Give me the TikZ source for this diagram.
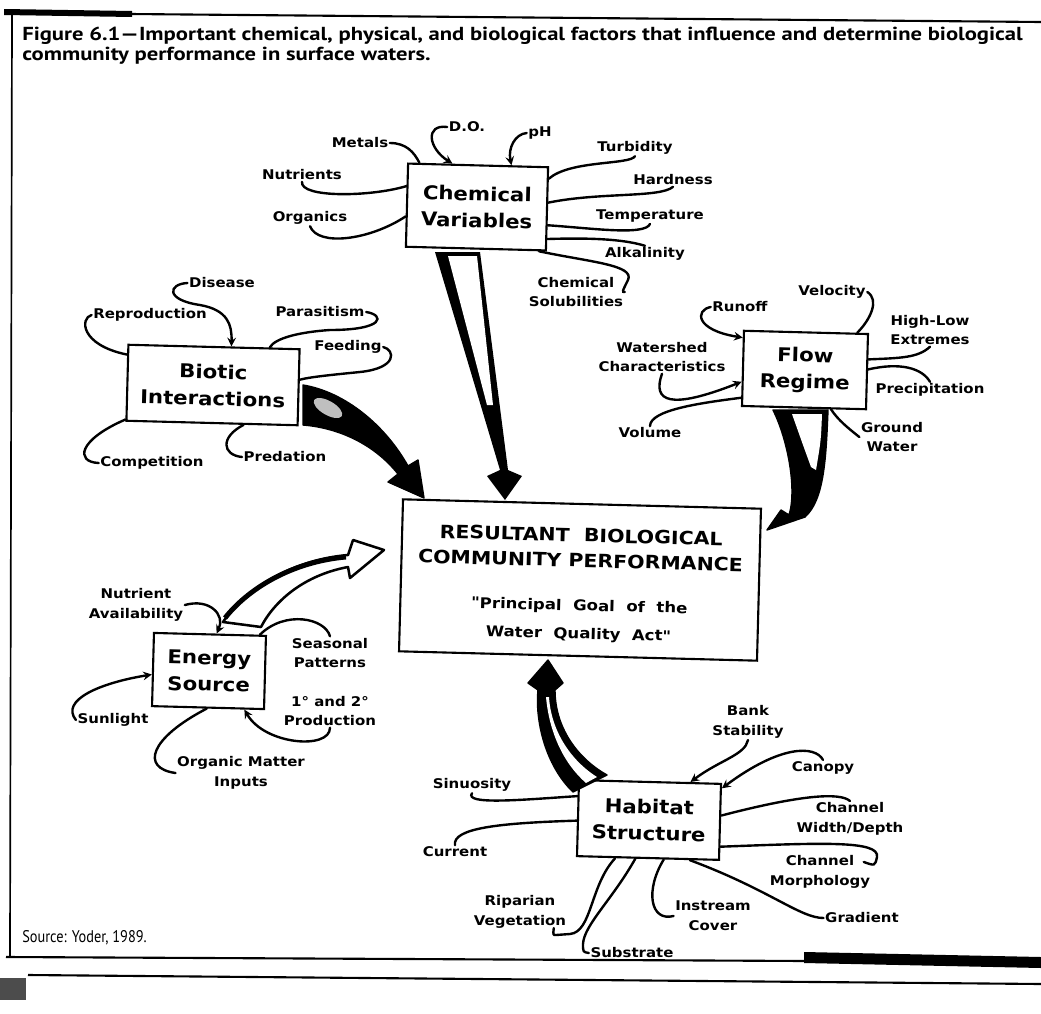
\documentclass[tikz,border=0pt]{standalone}
\usepackage{fontspec}
\setmainfont{PT Sans}
\newfontfamily\titlefont[FakeStretch=1.2]{PT Sans}
\newfontfamily\srcfont[FakeStretch=0.85]{PT Sans}
\newfontfamily\lblfont[FakeStretch=1.12]{DejaVu Sans}
\usetikzlibrary{calc}

\begin{document}
\begin{tikzpicture}[x=0.025cm, y=-0.025cm, >=stealth,
  box/.style={draw, line width=1.5pt, rotate=-1.5, align=center, inner sep=0pt,
    font=\lblfont\bfseries\fontsize{13.5}{19}\selectfont},
  lbl/.style={align=center, inner sep=1pt,
    font=\lblfont\bfseries\fontsize{9.5}{14}\selectfont},
  wire/.style={line width=1.7pt, line cap=round},
  fat/.style={fill=black, draw=black, line width=1pt, line join=round}]
\useasboundingbox (0,0) rectangle (1041,1014);

% Rahmen
\fill (4,9) -- (132,11) -- (132,17) -- (4,15) -- cycle;
\draw[line width=1.5pt] (130,14) -- (1041,22);
\draw[line width=1.2pt] (12,14) -- (10,957);
\draw[line width=1.5pt] (6,957) -- (806,961);
\fill (804,952) -- (1041,957) -- (1041,968) -- (804,963) -- cycle;
\draw[line width=1.5pt] (28,975) -- (1041,984);
\fill[black!70] (0,978) rectangle (26,1000);

% Text
\node[anchor=north west, align=left, inner sep=0pt,
  font=\titlefont\bfseries\fontsize{13.4}{14.2}\selectfont] (title) at (22,27)
  {Figure 6.1—Important chemical, physical, and biological factors that influence and determine biological\\
   community performance in surface waters.};
\node[anchor=west, inner sep=0pt, font=\srcfont\fontsize{12}{14}\selectfont] (source) at (22,938)
  {Source: Yoder, 1989.};

% Kaesten
\node[box, minimum width=3.5cm, minimum height=2.08cm] (chem) at (477,207) {Chemical\\Variables};
\node[box, minimum width=4.28cm, minimum height=1.9cm] (biotic) at (213,385) {Biotic\\Interactions};
\node[box, minimum width=3.1cm, minimum height=1.88cm] (flow) at (805,370) {Flow\\Regime};
\node[box, minimum width=2.8cm, minimum height=1.83cm] (energy) at (209,671) {Energy\\Source};
\node[box, minimum width=3.55cm, minimum height=1.9cm] (habitat) at (649,820) {Habitat\\Structure};
\node[box, minimum width=8.95cm, minimum height=3.8cm] (res) at (580,580)
  {\fontsize{13}{18.5}\selectfont\rule{0pt}{17pt}RESULTANT \ BIOLOGICAL\\[-1pt]
   \fontsize{13}{18.5}\selectfont COMMUNITY PERFORMANCE\\[12pt]
   \fontsize{10.5}{17.5}\selectfont "Principal \ Goal \ of \ the\\[1pt]
   \fontsize{10.5}{17.5}\selectfont Water \ Quality \ Act"};

% Faktoren: Chemie
\node[lbl] (metals) at (360,143) {Metals};
\node[lbl] (do) at (467,127) {D.O.};
\node[lbl] (ph) at (540,133) {pH};
\node[lbl] (nutrients) at (302,175) {Nutrients};
\node[lbl] (organics) at (310,218) {Organics};
\node[lbl] (turbidity) at (635,148) {Turbidity};
\node[lbl] (hardness) at (673,180) {Hardness};
\node[lbl] (temperature) at (650,216) {Temperature};
\node[lbl] (alkalinity) at (645,254) {Alkalinity};
\node[lbl] (solub) at (576,292) {Chemical\\Solubilities};

% Faktoren: Biotik
\node[lbl] (disease) at (222,283) {Disease};
\node[lbl] (reproduction) at (150,315) {Reproduction};
\node[lbl] (parasitism) at (320,312) {Parasitism};
\node[lbl] (feeding) at (348,347) {Feeding};
\node[lbl] (competition) at (152,463) {Competition};
\node[lbl] (predation) at (285,457) {Predation};

% Faktoren: Abfluss
\node[lbl] (runoff) at (740,307) {Runoff};
\node[lbl] (velocity) at (832,292) {Velocity};
\node[lbl] (highlow) at (930,330) {High-Low\\Extremes};
\node[lbl] (precip) at (930,390) {Precipitation};
\node[lbl] (watershed) at (662,357) {Watershed\\Characteristics};
\node[lbl] (volume) at (650,433) {Volume};
\node[lbl] (ground) at (892,437) {Ground\\Water};

% Faktoren: Energie
\node[lbl] (nutavail) at (136,605) {Nutrient\\Availability};
\node[lbl] (seasonal) at (330,653) {Seasonal\\Patterns};
\node[lbl] (production) at (330,711) {1° and 2°\\Production};
\node[lbl] (sunlight) at (113,720) {Sunlight};
\node[lbl] (organic) at (241,773) {Organic Matter\\Inputs};

% Faktoren: Habitat
\node[lbl] (bank) at (748,722) {Bank\\Stability};
\node[lbl] (canopy) at (823,768) {Canopy};
\node[lbl] (width) at (850,819) {Channel\\Width/Depth};
\node[lbl] (morph) at (820,872) {Channel\\Morphology};
\node[lbl] (gradient) at (862,918) {Gradient};
\node[lbl] (sinuosity) at (472,785) {Sinuosity};
\node[lbl] (current) at (455,852) {Current};
\node[lbl] (riparian) at (520,912) {Riparian\\Vegetation};
\node[lbl] (substrate) at (632,953) {Substrate};
\node[lbl] (instream) at (713,916) {Instream\\Cover};

% Verbindungen
\draw[wire] (metals.east) .. controls (406,143) and (414,152) .. (chem.144);
\draw[wire, ->] (do.west) .. controls (425,124) and (428,148) .. (chem.121);
\draw[wire, ->] (ph.west) .. controls (515,134) and (508,148) .. (chem.52);
\draw[wire] (nutrients.south) .. controls (300,198) and (370,197) .. (chem.165);
\draw[wire] (organics.south) .. controls (318,247) and (370,240) .. (chem.189);
\draw[wire] (turbidity.south) .. controls (630,165) and (570,160) .. (chem.23);
\draw[wire] (hardness.south) .. controls (660,198) and (600,192) .. (chem.5);
\draw[wire] (temperature.south) .. controls (645,236) and (590,228) .. (chem.-13);
\draw[wire] (chem.-23) .. controls (580,238) and (620,238) .. (alkalinity.north);
\draw[wire] (chem.-34) .. controls (590,262) and (635,265) .. (628,280)
  .. controls (622,292) .. (solub.east);

\draw[wire, ->] (disease.west) .. controls (168,284) and (165,300) .. (200,305)
  .. controls (228,310) and (232,325) .. (biotic.66);
\draw[wire] (reproduction.west) .. controls (80,318) and (80,345) .. (biotic.162);
\draw[wire] (parasitism.east) .. controls (385,315) and (385,330) .. (330,330)
  .. controls (300,332) and (275,338) .. (biotic.35);
\draw[wire] (feeding.east) .. controls (395,350) and (398,368) .. (360,372)
  .. controls (330,375) and (310,377) .. (biotic.5);
\draw[wire] (competition.west) .. controls (75,462) and (78,440) .. (biotic.203);
\draw[wire] (predation.west) .. controls (222,455) and (220,437) .. (biotic.-51);

\draw[wire, ->] (runoff.west) .. controls (695,310) and (695,330) .. (flow.154);
\draw[wire] (velocity.east) .. controls (880,300) and (870,320) .. (flow.37);
\draw[wire] (highlow.south) .. controls (918,358) and (900,358) .. (flow.11);
\draw[wire] (precip.north) .. controls (922,368) and (900,362) .. (flow.2);
\draw[wire, ->] (watershed.south) .. controls (652,402) and (670,410) .. (flow.192);
\draw[wire] (volume.north) .. controls (650,410) and (700,403) .. (flow.205);
\draw[wire] (ground.west) .. controls (848,428) and (838,420) .. (flow.-55);

\draw[wire, ->] (nutavail.east) .. controls (210,598) and (225,615) .. (energy.80);
\draw[wire, ->] (sunlight.west) .. controls (60,700) and (100,683) .. (energy.185);
\draw[wire] (seasonal.north) .. controls (325,618) and (285,610) .. (energy.37);
\draw[wire, ->] (production.south) .. controls (330,750) and (265,745) .. (energy.-46);
\draw[wire] (organic.west) .. controls (140,768) and (150,738) .. (energy.-92);

\draw[wire, ->] (bank.south) .. controls (745,755) and (720,760) .. (habitat.44);
\draw[wire, ->] (canopy.north) .. controls (815,745) and (780,745) .. (habitat.25);
\draw[wire] (width.north) .. controls (840,792) and (800,795) .. (habitat.5);
\draw[wire] (habitat.-19) .. controls (820,843) and (880,840) .. (877,857)
  .. controls (875,866) .. ($(morph.north east)+(-8,8)$);
\draw[wire] (gradient.west) .. controls (800,918) and (770,890) .. (habitat.-43);
\draw[wire] (sinuosity.south) .. controls (464,805) and (520,800) .. (habitat.163);
\draw[wire] (current.north) .. controls (452,828) and (500,823) .. (habitat.182);
\draw[wire] (habitat.230) .. controls (590,885) and (592,932) .. (570,934)
  -- (556,935) .. controls (553,935) .. ($(riparian.south east)+(-14,-2)$);
\draw[wire] (habitat.252) .. controls (612,900) and (584,925) .. (583,944)
  .. controls (583,952) .. (substrate.west);
\draw[wire] (instream.west) .. controls (650,922) and (645,890) .. (habitat.292);

% grosse Pfeile
\fill (435,252) -- (480,252) -- (508,470) -- (522,476) -- (505,500) -- (487,476)
  -- (500,470) -- cycle;
\fill[white] (448,256) -- (477,256) -- (493,405) -- (487,405) -- cycle;

\draw[fat] (303,385) .. controls (345,392) and (385,425) .. (408,466) -- (418,460)
  -- (424,498) -- (388,482) -- (398,474) .. controls (375,445) and (340,428) .. (303,425) -- cycle;
\fill[black!25, rotate around={-30:(328,408)}] (328,408) ellipse (16 and 7);

\draw[fat] (773,410) -- (828,410) .. controls (826,460) and (824,500) .. (805,517)
  -- (767,530) -- (781,510) -- (789,515) .. controls (797,490) and (788,440) .. cycle;
\fill[white] (792,414) -- (822,414) .. controls (821,440) .. (816,470)
  -- (811,467) .. controls (803,445) .. cycle;

\draw[line width=1.8pt, fill=white, line join=round] (223,622) .. controls (245,590) and (290,560) .. (348,555)
  -- (353,540) -- (384,550) -- (350,578) -- (348,567) .. controls (305,575) and (275,600) .. (261,627) -- cycle;
\draw[line width=3.5pt] (225,618) .. controls (247,590) and (290,562) .. (346,557);

\draw[fat] (573,792) .. controls (545,765) and (535,720) .. (538,690) -- (528,683)
  -- (548,660) -- (563,683) -- (555,690) .. controls (555,730) and (580,760) .. (607,775) -- cycle;
\fill[white] (549,697) .. controls (551,730) and (570,760) .. (597,777) -- (586,783)
  .. controls (562,762) and (549,730) .. (546,697) -- cycle;
\end{tikzpicture}
\end{document}
